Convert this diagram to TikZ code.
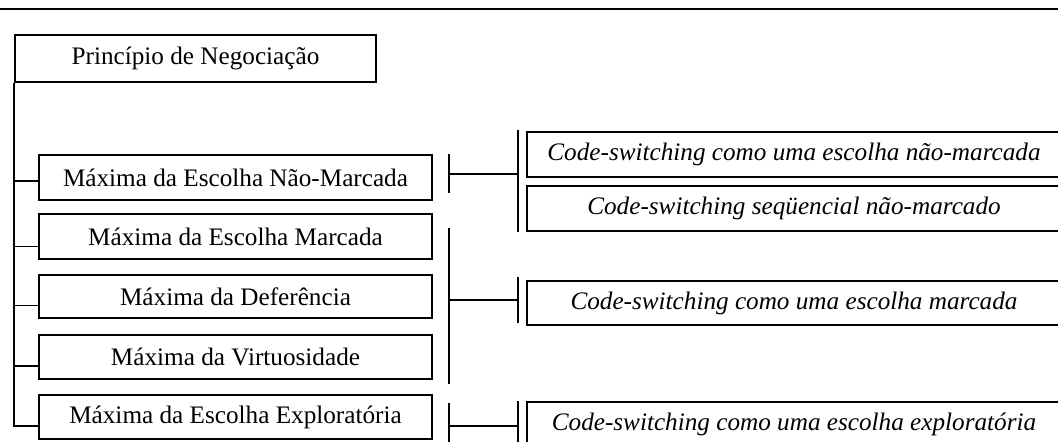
\documentclass[tikz,border=0pt]{standalone}
\usepackage{fontspec}
\setmainfont{Liberation Serif}
\usetikzlibrary{calc}
\begin{document}
\begin{tikzpicture}[x=0.5pt,y=-0.5pt,
  box/.style={draw, line width=1pt, inner sep=0pt, minimum height=22pt,
              font=\fontsize{12.6}{15}\selectfont},
  maxbox/.style={box, minimum width=196.5pt},
  csbox/.style={box, minimum width=267pt, font=\fontsize{12.6}{15}\selectfont\itshape},
  wire/.style={line width=0.85pt},
  rule/.style={line width=1.1pt}]
\useasboundingbox (0,0) rectangle (1058,441);
\clip (0,0) rectangle (1058,441);

% top rule
\coordinate (rl) at (-5,9);
\coordinate (rr) at (1065,9);
\draw[rule] (rl) -- (rr);

% principle and maxims
\node[box, minimum width=180.5pt, minimum height=23.5pt] (P) at (195.5,58.5) {Princípio de Negociação};
\node[maxbox, minimum height=22.5pt] (B1) at (235.5,177.5) {Máxima da Escolha Não-Marcada};
\node[maxbox, minimum height=22.5pt] (B2) at (235.5,236.5) {Máxima da Escolha Marcada};
\node[maxbox, minimum height=21.5pt] (B3) at (235.5,296.5) {Máxima da Deferência};
\node[maxbox] (B4) at (235.5,357) {Máxima da Virtuosidade};
\node[maxbox] (B5) at (235.5,417) {Máxima da Escolha Exploratória};

% code-switching types
\node[csbox, minimum height=22.5pt] (C1) at (794,154.5) {Code-switching como uma escolha não-marcada};
\node[csbox, minimum height=22.5pt] (C2) at (794,208.5) {Code-switching seqüencial não-marcado};
\node[csbox] (C3) at (794,303) {Code-switching como uma escolha marcada};
\node[csbox, minimum height=22.5pt] (C4) at (794,424.5) {Code-switching como uma escolha exploratória};

% trunk and branches to the maxims
\coordinate (j1) at ($(B1.south west)+(0,-20)$);
\coordinate (j2) at ($(B2.south west)+(0,-13.5)$);
\coordinate (j3) at ($(B3.south west)+(0,-13.5)$);
\coordinate (j4) at ($(B4.south west)+(0,-14)$);
\coordinate (j5) at ($(B5.south west)+(0,-14)$);
\draw[wire] (P.south west) |- (j5);
\foreach \j in {j1,j2,j3,j4} \draw[wire] (P.south west |- \j) -- (\j);

% bracket: unmarked choice
\coordinate (u1) at ($(B1.north east)+(16,0)$);
\coordinate (u2) at ($(B1.south east)+(16,-8)$);
\coordinate (u3) at ($(C1.north west)+(-8,-1)$);
\coordinate (u4) at ($(C2.south west)+(-8,0)$);
\coordinate (uh) at ($(u1)+(0,20)$);
\draw[wire] (u1) -- (u2);
\draw[wire] (u3) -- (u4);
\draw[wire] (uh) -- (uh -| u3);

% bracket: marked choice
\coordinate (m1) at ($(B2.south east)+(16,-32)$);
\coordinate (m2) at ($(B4.south east)+(16,4)$);
\coordinate (m3) at ($(C3.north west)+(-8,-3)$);
\coordinate (m4) at ($(C3.south west)+(-8,-3)$);
\coordinate (mh) at ($(B3.east)+(16,3.5)$);
\draw[wire] (m1) -- (m2);
\draw[wire] (m3) -- (m4);
\draw[wire] (mh) -- (mh -| m3);

% bracket: exploratory choice
\coordinate (e1) at ($(B5.north east)+(16,9)$);
\coordinate (e2) at ($(B5.south east)+(16,8)$);
\coordinate (e3) at ($(C4.north west)+(-8,0)$);
\coordinate (e4) at ($(C4.south west)+(-8,0)$);
\coordinate (eh) at ($(e1)+(0,23)$);
\draw[wire] (e1) -- (e2);
\draw[wire] (e3) -- (e4);
\draw[wire] (eh) -- (eh -| e3);
\end{tikzpicture}
\end{document}
